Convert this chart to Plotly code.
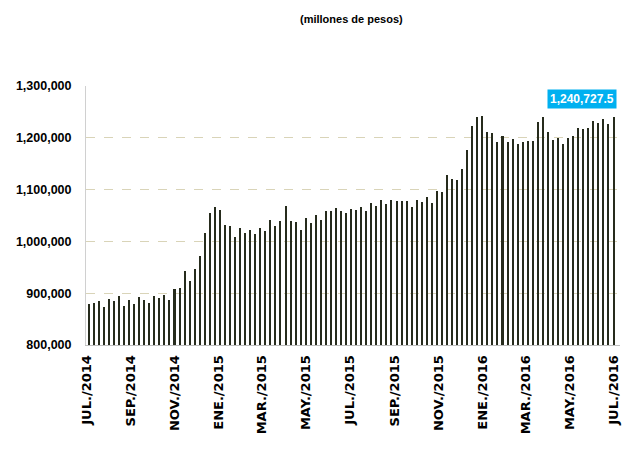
import pandas as pd
import plotly.graph_objects as go

# Weekly values (millones de pesos)
values = [
    879000, 881000, 884000, 873000, 889000, 885000, 894000, 876000, 887000, 879000,
    892000, 886000, 881000, 894000, 891000, 897000, 886000, 908500, 910000, 942600,
    923000, 946000, 972000, 1015800, 1054000, 1067000, 1061000, 1032000, 1030000, 1009000,
    1025000, 1016000, 1022000, 1014000, 1025000, 1020000, 1041000, 1030000, 1040000, 1069000,
    1040000, 1038000, 1022000, 1046000, 1035000, 1051000, 1041000, 1058000, 1058000, 1065000,
    1058000, 1054000, 1063000, 1061000, 1067000, 1058000, 1074000, 1068000, 1079000, 1072000,
    1079000, 1078000, 1078000, 1078000, 1067000, 1079000, 1076000, 1085000, 1074000, 1096500,
    1095000, 1128000, 1120000, 1118000, 1140000, 1176000, 1223000, 1241000, 1243000, 1212000,
    1209000, 1191000, 1203000, 1192000, 1197000, 1189000, 1192000, 1193000, 1193000, 1231000,
    1239500, 1212000, 1196000, 1200000, 1189000, 1200000, 1203000, 1219600, 1217600, 1219600,
    1232000, 1229000, 1236000, 1227000, 1240727.5,
]
dates = pd.date_range(start="2014-07-04", periods=len(values), freq="7D")

tick_dates = [
    "2014-07-01", "2014-09-01", "2014-11-01", "2015-01-01", "2015-03-01", "2015-05-01",
    "2015-07-01", "2015-09-01", "2015-11-01", "2016-01-01", "2016-03-01", "2016-05-01",
    "2016-07-01",
]
tick_labels = [
    "JUL./2014", "SEP./2014", "NOV./2014", "ENE./2015", "MAR./2015", "MAY./2015",
    "JUL./2015", "SEP./2015", "NOV./2015", "ENE./2016", "MAR./2016", "MAY./2016",
    "JUL./2016",
]
y_ticks = [800000, 900000, 1000000, 1100000, 1200000, 1300000]

DAY_MS = 86400000

fig = go.Figure()
fig.add_trace(go.Bar(
    x=dates, y=values,
    width=[2.8 * DAY_MS] * len(values),
    marker=dict(color="#262b1c", line=dict(width=0)),
    hoverinfo="x+y",
))

fig.add_annotation(
    x=dates[-1], y=values[-1], xref="x", yref="y",
    text="<b>{:,.1f}</b>".format(values[-1]),
    showarrow=False, xanchor="right", yanchor="bottom",
    xshift=3, yshift=8,
    bgcolor="#00B0F0", font=dict(color="white", size=12, family="Liberation Sans"),
    borderpad=2,
)

# Title as a paper annotation centred over the plot area
fig.add_annotation(
    x=0.498, y=1.2587, xref="paper", yref="paper",
    text="<b>(millones de pesos)</b>",
    showarrow=False, xanchor="center", yanchor="middle",
    font=dict(size=11, family="Liberation Sans", color="#000000"),
)

fig.update_layout(
    width=625, height=458,
    margin=dict(l=86, r=5, t=86, b=113, autoexpand=False),
    paper_bgcolor="white", plot_bgcolor="white",
    showlegend=False,
    bargap=0,
    font=dict(family="Liberation Sans", color="#000000"),
)

fig.update_xaxes(
    type="date",
    range=["2014-06-30 06:00", "2016-07-10"],
    tickvals=tick_dates, ticktext=tick_labels,
    tickangle=-90,
    tickfont=dict(size=13, family="DejaVu Sans", weight="bold"),
    showgrid=False, showline=True, linecolor="#bfbfbf", linewidth=1,
    ticks="outside", ticklen=4, tickcolor="rgba(0,0,0,0)",
    zeroline=False, automargin=False,
)
fig.update_yaxes(
    range=[800000, 1300000],
    tickvals=y_ticks, tickformat=",",
    tickfont=dict(size=12.5, family="Liberation Sans", weight="bold"),
    showgrid=True, gridcolor="#d9d4b8", griddash="dash", gridwidth=1,
    showline=True, linecolor="#d0d0d0", linewidth=1,
    ticks="outside", ticklen=11, tickcolor="rgba(0,0,0,0)",
    zeroline=False, automargin=False,
)

fig.write_html(
    "out.html",
    config={"displayModeBar": False},
    post_script="document.body.style.margin='0';document.body.style.overflow='hidden';",
)
